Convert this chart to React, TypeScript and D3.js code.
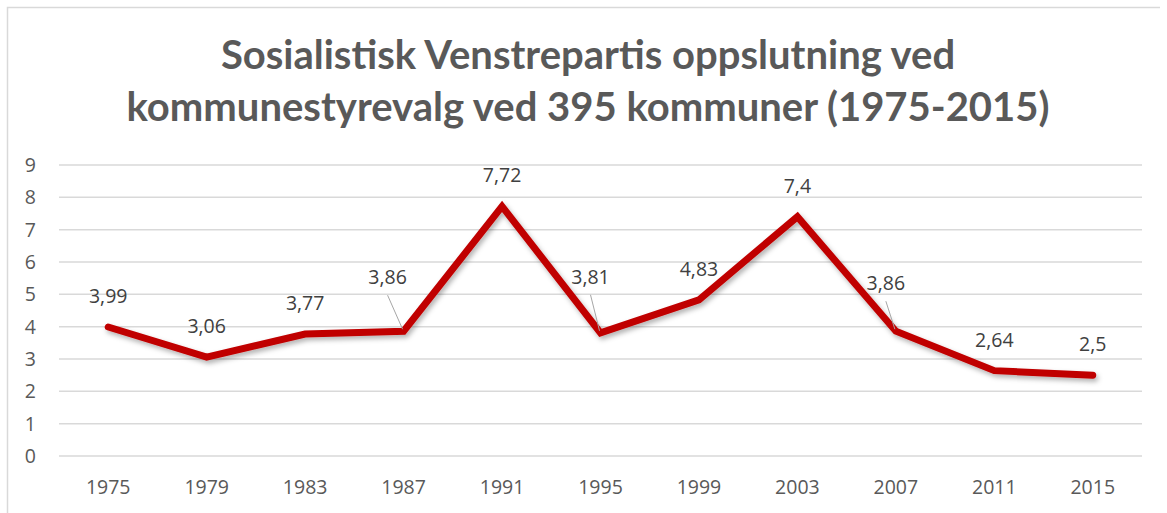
import { useEffect, useRef } from 'react'
import * as d3 from 'd3'

const years = ['1975', '1979', '1983', '1987', '1991', '1995', '1999', '2003', '2007', '2011', '2015']
const support = [3.99, 3.06, 3.77, 3.86, 7.72, 3.81, 4.83, 7.4, 3.86, 2.64, 2.5]
const yTicks = [0, 1, 2, 3, 4, 5, 6, 7, 8, 9]
const titleLines = ['Sosialistisk Venstrepartis oppslutning ved', 'kommunestyrevalg ved 395 kommuner (1975-2015)']

// labels that Excel pushed away from their point, with a leader line
const movedLabels: Record<number, [number, number]> = {
  3: [-16, -54],
  5: [-10, -56],
  8: [-10, -48],
}

const W = 1167
const H = 513
const TITLE_FONT = 'Lato, "Open Sans", sans-serif'
const FONT = '"Open Sans", Lato, sans-serif'

export default function App() {
  const svgRef = useRef<SVGSVGElement>(null)

  useEffect(() => {
    document.body.style.margin = '0'
    if (!svgRef.current) return
    const svg = d3.select(svgRef.current)
    svg.selectAll('*').remove()

    const margin = { top: 165, right: 25, bottom: 57, left: 59 }
    const width = W - margin.left - margin.right
    const height = H - margin.top - margin.bottom

    const defs = svg.append('defs')
    const filter = defs.append('filter').attr('id', 'shadow').attr('x', '-5%').attr('y', '-20%').attr('width', '110%').attr('height', '140%')
    filter
      .append('feDropShadow')
      .attr('dx', 2)
      .attr('dy', 3)
      .attr('stdDeviation', 2.5)
      .attr('flood-color', '#000')
      .attr('flood-opacity', 0.3)

    svg.append('rect').attr('width', W).attr('height', H).attr('fill', '#fff')

    // chart border (left and top visible)
    svg
      .append('path')
      .attr('d', `M7.5,${H} L7.5,7.5 L1160,7.5`)
      .attr('fill', 'none')
      .attr('stroke', '#d9d9d9')
      .attr('stroke-width', 1.5)

    svg
      .append('g')
      .selectAll('text')
      .data(titleLines)
      .enter()
      .append('text')
      .attr('x', 588)
      .attr('y', (d, i) => 55 + i * 52)
      .attr('dy', '0.36em')
      .attr('text-anchor', 'middle')
      .style('font-family', TITLE_FONT)
      .style('font-weight', 'bold')
      .style('font-size', '40px')
      .style('fill', '#595959')
      .text((d) => d)

    const g = svg.append('g').attr('transform', `translate(${margin.left},${margin.top})`)

    const x = d3.scaleBand().domain(years).range([0, width])
    const y = d3.scaleLinear().domain([0, 9]).range([height, 0])

    g.selectAll('.grid')
      .data(yTicks)
      .enter()
      .append('line')
      .attr('x1', 0)
      .attr('x2', width)
      .attr('y1', (d) => y(d))
      .attr('y2', (d) => y(d))
      .attr('stroke', '#d9d9d9')
      .attr('stroke-width', 1.5)

    g.selectAll('.ytick')
      .data(yTicks)
      .enter()
      .append('text')
      .attr('x', -23)
      .attr('y', (d) => y(d))
      .attr('dy', '0.36em')
      .attr('text-anchor', 'end')
      .style('font-family', FONT)
      .style('font-size', '19.5px')
      .style('fill', '#595959')
      .text((d) => d)

    const cx = (d: string) => (x(d) as number) + x.bandwidth() / 2

    g.selectAll('.xtick')
      .data(years)
      .enter()
      .append('text')
      .attr('x', (d) => cx(d))
      .attr('y', height + 31)
      .attr('dy', '0.36em')
      .attr('text-anchor', 'middle')
      .style('font-family', FONT)
      .style('font-size', '19.5px')
      .style('fill', '#595959')
      .text((d) => d)

    const line = d3
      .line<number>()
      .x((d, i) => cx(years[i]))
      .y((d) => y(d))

    g.append('path')
      .datum(support)
      .attr('d', line)
      .attr('fill', 'none')
      .attr('stroke', '#c00000')
      .attr('stroke-width', 7)
      .attr('stroke-linejoin', 'miter')
      .attr('stroke-linecap', 'round')
      .attr('filter', 'url(#shadow)')

    // leader lines
    Object.entries(movedLabels).forEach(([k, [dx, dy]]) => {
      const i = +k
      const px = cx(years[i])
      const py = y(support[i])
      g.append('line')
        .attr('x1', px + dx)
        .attr('y1', py + dy + 18)
        .attr('x2', px - 1)
        .attr('y2', py - 2)
        .attr('stroke', '#a6a6a6')
        .attr('stroke-width', 1)
    })

    g.selectAll('.label')
      .data(support)
      .enter()
      .append('text')
      .attr('x', (d, i) => cx(years[i]) + (movedLabels[i] ? movedLabels[i][0] : 0))
      .attr('y', (d, i) => y(d) + (movedLabels[i] ? movedLabels[i][1] : -31))
      .attr('dy', '0.36em')
      .attr('text-anchor', 'middle')
      .style('font-family', FONT)
      .style('font-size', '19.5px')
      .style('fill', '#404040')
      .text((d) => String(d).replace('.', ','))
  }, [])

  return <svg ref={svgRef} width={W} height={H} style={{ display: 'block' }} />
}
